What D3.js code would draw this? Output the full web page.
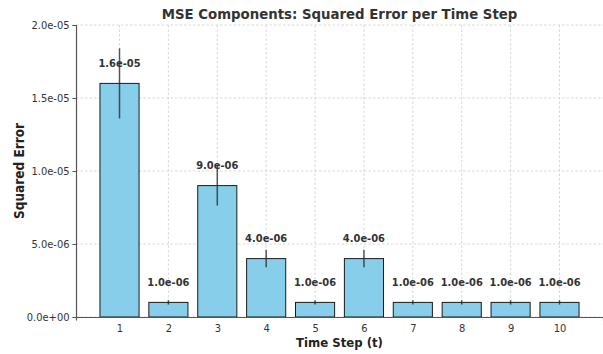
<!DOCTYPE html>
<html>
<head>
<meta charset="utf-8">
<script src="https://cdn.jsdelivr.net/npm/d3@7"></script>
<style>
  body { margin: 0; background: #fff; }
  svg { display: block; font-family: "DejaVu Sans Condensed", "DejaVu Sans", sans-serif; }
</style>
</head>
<body>
<div id="chart"></div>
<script>
// Data
var timeSteps = [1, 2, 3, 4, 5, 6, 7, 8, 9, 10];
var squaredErrors = [1.6e-5, 1.0e-6, 9.0e-6, 4.0e-6, 1.0e-6, 4.0e-6, 1.0e-6, 1.0e-6, 1.0e-6, 1.0e-6];
var errorSizes = [2.4e-6, 0.15e-6, 1.37e-6, 0.6e-6, 0.15e-6, 0.6e-6, 0.15e-6, 0.15e-6, 0.15e-6, 0.15e-6];
var yTicks = [0, 5e-6, 1e-5, 1.5e-5, 2e-5];

// Set the dimensions of the canvas / graph
var W = 603, H = 354;
var margin = {top: 25, right: 0, bottom: 37, left: 76},
    width = W - margin.left - margin.right,
    height = H - margin.top - margin.bottom;

var x = d3.scaleLinear().domain([0.11, 10.89]).range([0, width]);
var y = d3.scaleLinear().domain([0, 2e-5]).range([height, 0]);
var barW = x(0.8) - x(0);

// matplotlib style exponent: 1.0e-06
var fmtSci = function(d) {
    return d3.format(".1e")(d).replace(/e([+-])(\d)$/, "e$10$2");
};

var svg = d3.select("#chart").append("svg")
    .attr("width", W)
    .attr("height", H);

var g = svg.append("g")
    .attr("transform", "translate(" + margin.left + "," + margin.top + ")");

// Grid lines
g.append("g").selectAll("line")
    .data(yTicks).enter().append("line")
    .attr("x1", 0).attr("x2", width)
    .attr("y1", function(d) { return y(d); })
    .attr("y2", function(d) { return y(d); })
    .attr("stroke", "#cfcfcf").attr("stroke-width", 0.8)
    .attr("stroke-dasharray", "2.5,2");

g.append("g").selectAll("line")
    .data(timeSteps).enter().append("line")
    .attr("x1", function(d) { return x(d); })
    .attr("x2", function(d) { return x(d); })
    .attr("y1", 0).attr("y2", height)
    .attr("stroke", "#cfcfcf").attr("stroke-width", 0.8)
    .attr("stroke-dasharray", "2.5,2");

// Bars
g.selectAll("rect.bar")
    .data(timeSteps).enter().append("rect")
    .attr("class", "bar")
    .attr("x", function(d) { return x(d) - barW / 2; })
    .attr("y", function(d, i) { return y(squaredErrors[i]); })
    .attr("width", barW)
    .attr("height", function(d, i) { return height - y(squaredErrors[i]); })
    .attr("fill", "#87ceeb")
    .attr("stroke", "#1a1a1a")
    .attr("stroke-width", 1);

// Error bars
g.selectAll("line.err")
    .data(timeSteps).enter().append("line")
    .attr("class", "err")
    .attr("x1", function(d) { return x(d); })
    .attr("x2", function(d) { return x(d); })
    .attr("y1", function(d, i) { return y(squaredErrors[i] + errorSizes[i]); })
    .attr("y2", function(d, i) { return y(squaredErrors[i] - errorSizes[i]); })
    .attr("stroke", "#222").attr("stroke-opacity", 0.75)
    .attr("stroke-width", 1.5);

// Value labels
g.selectAll("text.val")
    .data(timeSteps).enter().append("text")
    .attr("class", "val")
    .attr("x", function(d) { return x(d); })
    .attr("y", function(d, i) { return y(squaredErrors[i]) - 16.5; })
    .attr("text-anchor", "middle")
    .attr("font-size", "11px")
    .attr("font-weight", "bold")
    .attr("fill", "#333")
    .text(function(d, i) { return fmtSci(squaredErrors[i]); });

// Axes
var yAxis = g.append("g")
    .call(d3.axisLeft(y).tickValues(yTicks).tickFormat(fmtSci).tickSize(3.5).tickPadding(3));
var xAxis = g.append("g")
    .attr("transform", "translate(0," + height + ")")
    .call(d3.axisBottom(x).tickValues(timeSteps).tickFormat(d3.format("d")).tickSize(3.5).tickPadding(4));

[yAxis, xAxis].forEach(function(a) {
    a.select(".domain").attr("stroke", "#555").attr("stroke-width", 1.2);
    a.selectAll(".tick line").attr("stroke", "#555");
    a.selectAll(".tick text").attr("fill", "#333").attr("font-size", "11px")
        .attr("font-family", "DejaVu Sans Condensed, DejaVu Sans, sans-serif");
});
xAxis.selectAll(".tick line").attr("stroke-opacity", 0);

// Titles
svg.append("text")
    .attr("x", margin.left + width / 2)
    .attr("y", 19)
    .attr("text-anchor", "middle")
    .attr("font-size", "14.8px")
    .attr("font-weight", "bold")
    .attr("fill", "#333")
    .text("MSE Components: Squared Error per Time Step");

svg.append("text")
    .attr("x", margin.left + width / 2)
    .attr("y", 347)
    .attr("text-anchor", "middle")
    .attr("font-size", "13px")
    .attr("font-weight", "bold")
    .attr("fill", "#222")
    .text("Time Step (t)");

svg.append("text")
    .attr("transform", "translate(24," + (margin.top + height / 2) + ") rotate(-90)")
    .attr("text-anchor", "middle")
    .attr("font-size", "13.5px")
    .attr("font-weight", "bold")
    .attr("fill", "#222")
    .text("Squared Error");
</script>
</body>
</html>
